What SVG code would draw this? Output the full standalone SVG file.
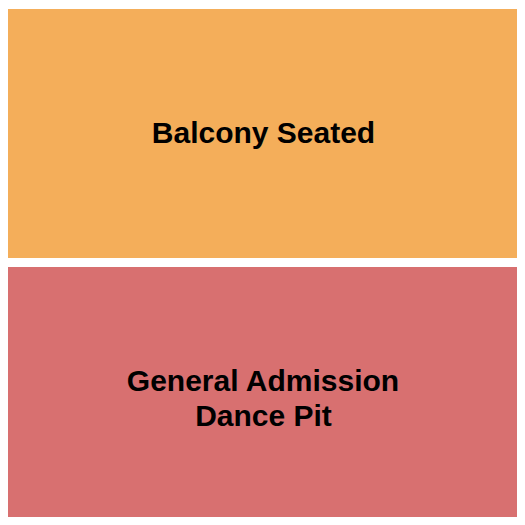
<svg xmlns="http://www.w3.org/2000/svg" width="525" height="525" viewBox="0 0 525 525">
<style>
.lbl{font-family:"Liberation Sans",Arial,sans-serif;font-weight:bold;font-size:30px;fill:#000;text-anchor:middle}
</style>
<rect width="525" height="525" fill="#fff"/>
<g id="balcony">
<rect x="8" y="9" width="509" height="249" fill="#F4AE5A"/>
<text class="lbl" x="263.5" y="143">Balcony Seated</text>
</g>
<g id="ga">
<rect x="8" y="267" width="509" height="250" fill="#D87070"/>
<text class="lbl" x="263" y="391">General Admission</text>
<text class="lbl" x="263.5" y="426">Dance Pit</text>
</g>
<g id="connectors"/>
</svg>
